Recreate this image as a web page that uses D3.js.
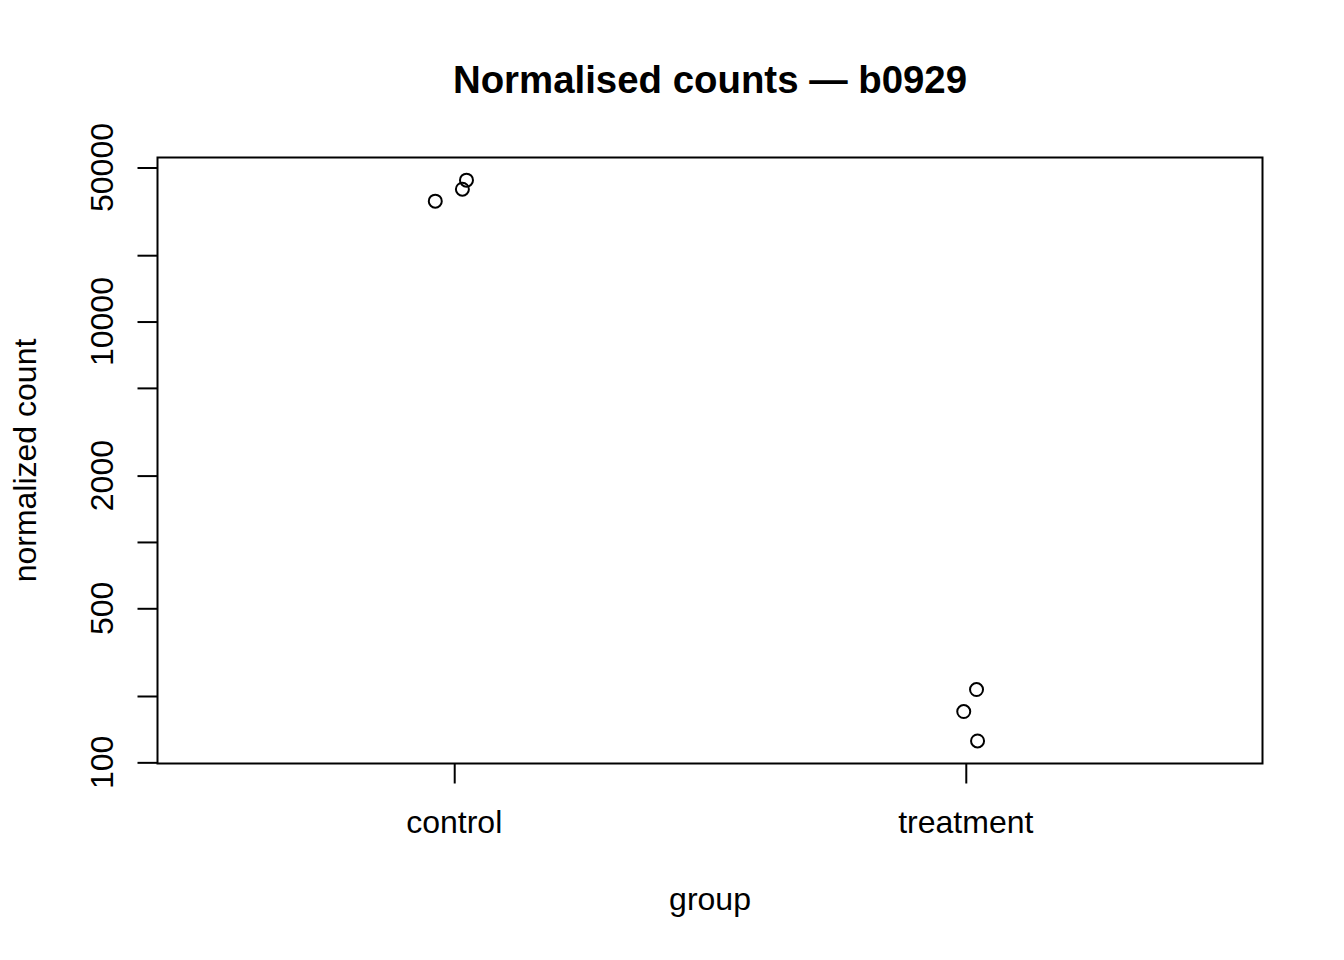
<!DOCTYPE html>
<html lang="en">

<head>
    <meta charset="UTF-8">
    <title>Normalised counts — b0929</title>
    <script src="https://cdn.jsdelivr.net/npm/d3@7/dist/d3.min.js"></script>
    <style>
        body { margin: 0; background: #fff; }
        text { font-family: "Liberation Sans", Arial, sans-serif; fill: #000; }
    </style>
</head>

<body>
    <script>
        // 数据
        const groups = ['control', 'treatment'];
        const sampleGroup = [1, 1, 1, 2, 2, 2];          // 组序号
        const jitter = [-0.037, 0.016, 0.024, 0.021, -0.004, 0.023]; // 横向抖动
        const counts = [35170, 39860, 43800, 214, 170, 125];
        const yTicks = [100, 200, 500, 1000, 2000, 5000, 10000, 20000, 50000];
        const yLabels = ['100', '', '500', '', '2000', '', '10000', '', '50000'];

        const width = 1344, height = 960;
        const plotLeft = 157.5, plotRight = 1262.5, plotTop = 157.5, plotBottom = 763.5;

        const svg = d3.select('body').append('svg')
            .attr('width', width)
            .attr('height', height);

        // 比例尺
        const x = d3.scaleLinear().domain([0.42, 2.58]).range([plotLeft, plotRight]);
        const y = d3.scaleLog().domain([98.8, 55500]).range([plotBottom, plotTop]);

        // 标题
        svg.append('text')
            .attr('x', (plotLeft + plotRight) / 2)
            .attr('y', 93)
            .attr('text-anchor', 'middle')
            .style('font-size', '38.4px')
            .style('font-weight', 'bold')
            .text('Normalised counts — b0929');

        // y 轴
        const yAxis = svg.append('g')
            .attr('transform', `translate(${plotLeft},0)`)
            .call(d3.axisLeft(y).tickValues(yTicks).tickSize(20).tickFormat(''));
        yAxis.select('.domain').remove();
        yAxis.selectAll('line').attr('stroke', '#000').attr('stroke-width', 2);

        svg.append('g').selectAll('text')
            .data(yTicks)
            .enter()
            .append('text')
            .attr('transform', d => `translate(113,${y(d)}) rotate(-90)`)
            .attr('text-anchor', 'middle')
            .style('font-size', '32px')
            .text((d, i) => yLabels[i]);

        // x 轴
        const xAxis = svg.append('g')
            .attr('transform', `translate(0,${plotBottom})`)
            .call(d3.axisBottom(x).tickValues([1, 2]).tickSize(20).tickFormat(''));
        xAxis.select('.domain').remove();
        xAxis.selectAll('line').attr('stroke', '#000').attr('stroke-width', 2);

        svg.append('g').selectAll('text')
            .data(groups)
            .enter()
            .append('text')
            .attr('x', (d, i) => x(i + 1))
            .attr('y', 833)
            .attr('text-anchor', 'middle')
            .style('font-size', '32px')
            .text(d => d);

        // 轴标题
        svg.append('text')
            .attr('x', (plotLeft + plotRight) / 2)
            .attr('y', 910)
            .attr('text-anchor', 'middle')
            .style('font-size', '32px')
            .text('group');

        svg.append('text')
            .attr('transform', `translate(36,${(plotTop + plotBottom) / 2}) rotate(-90)`)
            .attr('text-anchor', 'middle')
            .style('font-size', '32px')
            .text('normalized count');

        // 边框
        svg.append('rect')
            .attr('x', plotLeft)
            .attr('y', plotTop)
            .attr('width', plotRight - plotLeft)
            .attr('height', plotBottom - plotTop)
            .attr('fill', 'none')
            .attr('stroke', '#000')
            .attr('stroke-width', 2);

        // 点
        svg.append('g').selectAll('circle')
            .data(counts)
            .enter()
            .append('circle')
            .attr('cx', (d, i) => x(sampleGroup[i] + jitter[i]))
            .attr('cy', d => y(d))
            .attr('r', 6.5)
            .attr('fill', 'none')
            .attr('stroke', '#000')
            .attr('stroke-width', 2);
    </script>
</body>

</html>
